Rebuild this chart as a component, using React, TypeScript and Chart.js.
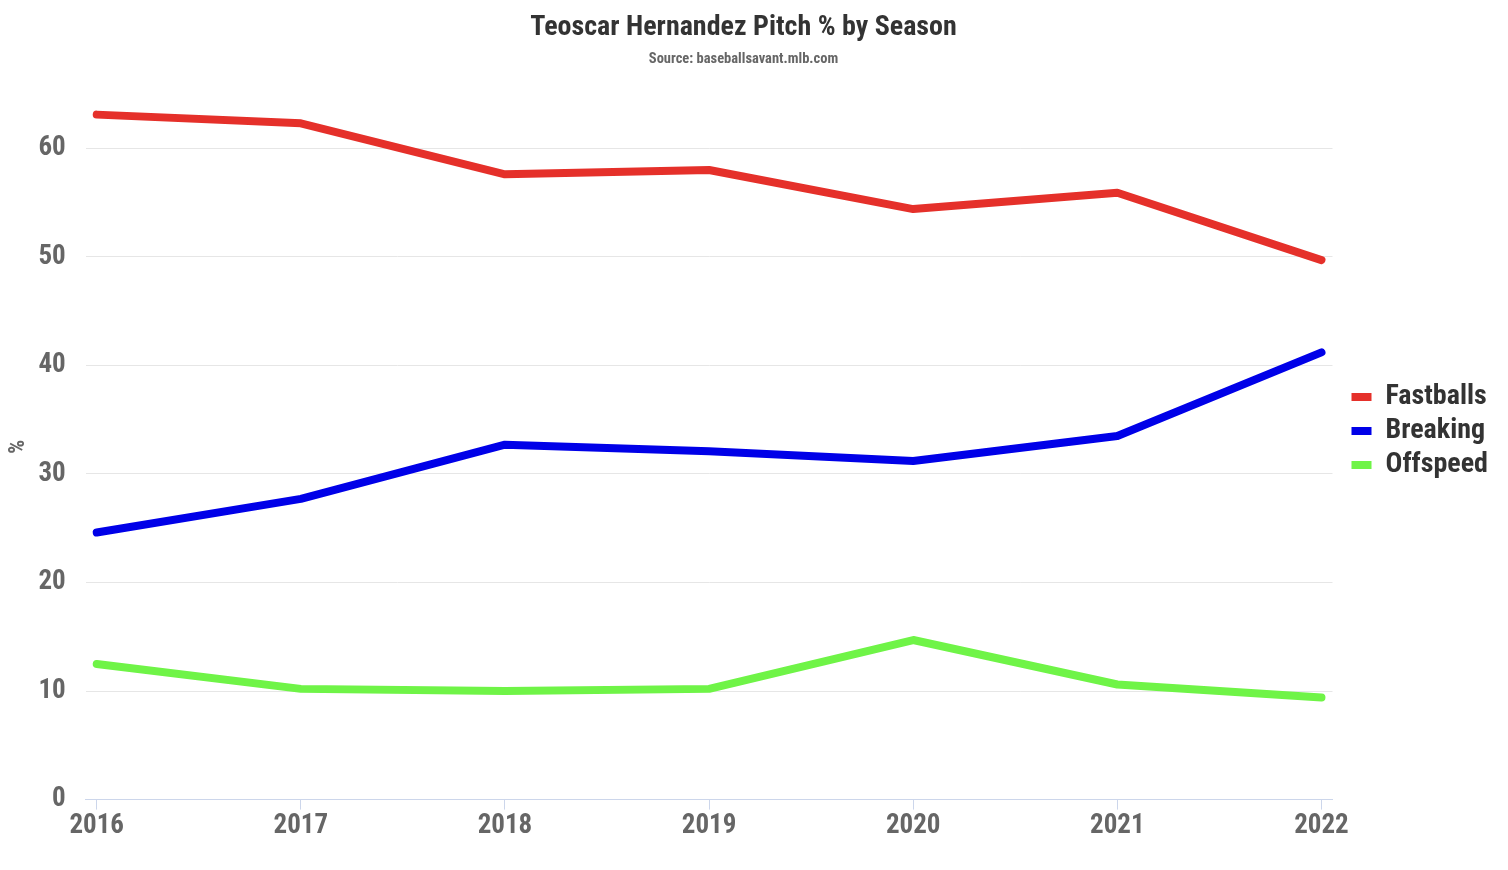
import React, { useEffect, useRef } from 'react';
import { Chart, registerables } from 'chart.js';

Chart.register(...registerables);

const seasons = [2016, 2017, 2018, 2019, 2020, 2021, 2022];
const fastballs = [63.1, 62.3, 57.6, 58.0, 54.4, 55.9, 49.7];
const breaking = [24.6, 27.7, 32.7, 32.1, 31.2, 33.5, 41.2];
const offspeed = [12.5, 10.2, 10.0, 10.2, 14.7, 10.6, 9.4];
const yTicks = [0, 10, 20, 30, 40, 50, 60];

const FONT = '"Roboto Condensed", "Liberation Sans Narrow", "DejaVu Sans Condensed", Roboto, sans-serif';

// nudges the legend away from the plot, the way the original sits
const legendNudge = {
  id: 'legendNudge',
  afterLayout: (chart: Chart) => {
    const legend = chart.legend;
    if (!legend) return;
    legend.left += 13;
    legend.right += 13;
    legend.top += 10;
    legend.bottom += 10;
  },
};

const App: React.FC = () => {
  const chartRef = useRef<HTMLCanvasElement>(null);
  const chartInstance = useRef<Chart>();

  useEffect(() => {
    document.body.style.margin = '0';
    if (!chartRef.current) return;
    const ctx = chartRef.current.getContext('2d');
    if (!ctx) return;

    const toPoints = (vals: number[]) => seasons.map((s, i) => ({ x: s, y: vals[i] }));

    chartInstance.current = new Chart(ctx, {
      type: 'line',
      data: {
        datasets: [
          { label: 'Fastballs', data: toPoints(fastballs), borderColor: '#e5302a', backgroundColor: '#e5302a' },
          { label: 'Breaking', data: toPoints(breaking), borderColor: '#0000e8', backgroundColor: '#0000e8' },
          { label: 'Offspeed', data: toPoints(offspeed), borderColor: '#6ff447', backgroundColor: '#6ff447' },
        ],
      },
      plugins: [legendNudge],
      options: {
        animation: false,
        responsive: false,
        maintainAspectRatio: false,
        layout: { padding: { left: 2, right: 23, top: 0, bottom: 28 } },
        elements: {
          line: { borderWidth: 8, tension: 0, borderCapStyle: 'round', borderJoinStyle: 'round' },
          point: { radius: 0, hoverRadius: 0 },
        },
        plugins: {
          title: {
            display: true,
            text: 'Teoscar Hernandez Pitch % by Season',
            color: '#333333',
            font: { family: FONT, size: 28, weight: 'bold' },
            padding: { top: 11, bottom: 6 },
          },
          subtitle: {
            display: true,
            text: 'Source: baseballsavant.mlb.com',
            color: '#666666',
            font: { family: FONT, size: 14.5, weight: 'bold' },
            padding: { bottom: 26 },
          },
          legend: {
            position: 'right',
            labels: {
              boxWidth: 20,
              boxHeight: 8,
              padding: 6,
              color: '#333333',
              font: { family: FONT, size: 28, weight: 'bold' },
              generateLabels: (chart) =>
                Chart.defaults.plugins.legend.labels
                  .generateLabels(chart)
                  .map((l) => ({ ...l, lineWidth: 0 })),
            },
          },
          tooltip: { enabled: false },
        },
        scales: {
          x: {
            type: 'linear',
            min: seasons[0] - 0.054,
            max: seasons[seasons.length - 1] + 0.054,
            afterBuildTicks: (axis) => {
              axis.ticks = seasons.map((s) => ({ value: s }));
            },
            ticks: {
              color: '#666666',
              font: { family: FONT, size: 27, weight: 'bold' },
              callback: (v) => String(v),
              maxRotation: 0,
              padding: 0,
            },
            grid: { drawOnChartArea: false, drawTicks: true, tickLength: 10, color: '#ccd6eb' },
            border: { display: true, color: '#ccd6eb', width: 1 },
          },
          y: {
            min: 0,
            max: 65,
            afterBuildTicks: (axis) => {
              axis.ticks = yTicks.map((v) => ({ value: v }));
            },
            ticks: {
              color: '#666666',
              font: { family: FONT, size: 27, weight: 'bold' },
              padding: 20,
            },
            grid: { color: '#e6e6e6', drawTicks: false },
            border: { display: false },
            title: {
              display: true,
              text: '%',
              color: '#666666',
              font: { family: FONT, size: 22, weight: 'bold' },
              padding: { top: 3, bottom: -13 },
            },
          },
        },
      },
    });

    return () => {
      if (chartInstance.current) {
        chartInstance.current.destroy();
      }
    };
  }, []);

  return (
    <div style={{ width: 1508, height: 870 }}>
      <canvas ref={chartRef} width={1508} height={870} />
    </div>
  );
};

export default App;
